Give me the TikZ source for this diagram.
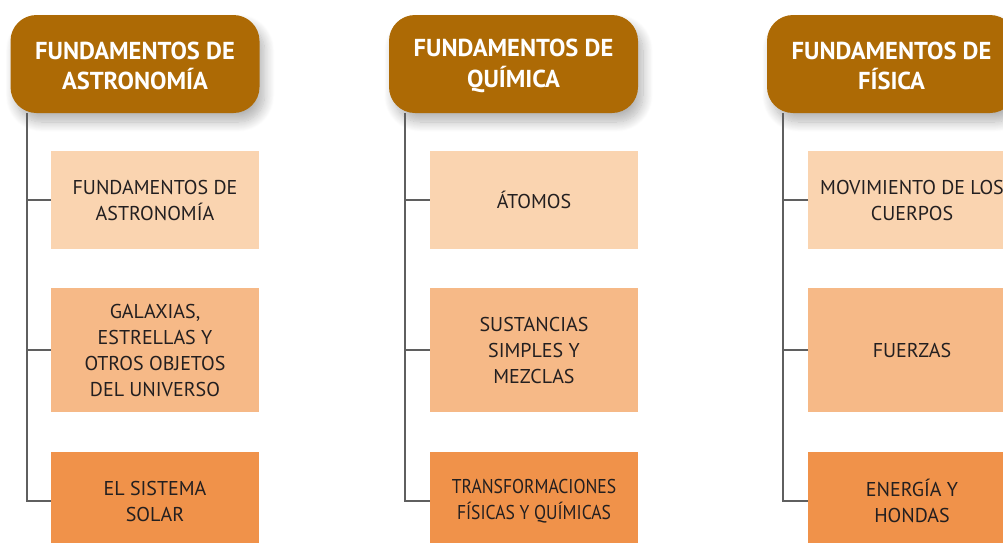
\documentclass[tikz,border=0pt]{standalone}
\usepackage{fontspec}
\setmainfont{PT Sans}
\newfontfamily\narrowsans[FakeStretch=0.88]{PT Sans}
\usetikzlibrary{shadows.blur}
\definecolor{hdr}{RGB}{173,106,5}
\definecolor{cA}{RGB}{250,212,176}
\definecolor{cB}{RGB}{246,185,135}
\definecolor{cC}{RGB}{240,146,74}
\definecolor{txt}{RGB}{35,31,32}
\definecolor{ln}{RGB}{95,95,95}
\begin{document}
\begin{tikzpicture}[x=1pt,y=-1pt,
 hdrbox/.style={fill=hdr, rounded corners=26pt, minimum width=249pt, minimum height=98pt, text=white,
   font=\fontsize{24.5}{30.5}\selectfont\bfseries, align=center, inner sep=0pt,
   blur shadow={shadow xshift=5pt, shadow yshift=-9pt, shadow opacity=30, shadow blur steps=14, shadow blur radius=10pt}},
 hdrtext/.style={text=white, font=\fontsize{24.5}{30.5}\selectfont\bfseries, align=center, inner sep=0pt},
 sub/.style={minimum width=208pt, inner sep=0pt, align=center, text=txt, font=\fontsize{20}{26}\selectfont},
 conn/.style={draw=ln, line width=1.4pt}]
\useasboundingbox (0,0) rectangle (1003,542);
\clip (0,0) rectangle (1003,542);
% column 1
\node[hdrbox] (h1) at (135,64) {};
\node[hdrtext] (h1t) at (135,66) {FUNDAMENTOS DE\\ASTRONOMÍA};
\node[sub, fill=cA, minimum height=98pt] (a1) at (155,200) {FUNDAMENTOS DE\\ASTRONOMÍA};
\node[sub, fill=cB, minimum height=124pt] (a2) at (155,350) {GALAXIAS,\\ESTRELLAS Y\\OTROS OBJETOS\\DEL UNIVERSO};
\node[sub, fill=cC, minimum height=98pt] (a3) at (155,501) {EL SISTEMA\\SOLAR};
\coordinate (t1) at (27,113);
\draw[conn] (t1) |- (a3.west);
\draw[conn] (a1.west) -- (a1.west -| t1);
\draw[conn] (a2.west) -- (a2.west -| t1);
% column 2
\node[hdrbox] (h2) at (513.5,64) {};
\node[hdrtext] (h2t) at (513.5,66) {FUNDAMENTOS DE\\QUÍMICA};
\node[sub, fill=cA, minimum height=98pt] (b1) at (534,200) {ÁTOMOS};
\node[sub, fill=cB, minimum height=124pt] (b2) at (534,350) {SUSTANCIAS\\SIMPLES Y\\MEZCLAS};
\node[sub, fill=cC, minimum height=98pt, font=\fontsize{20}{26}\narrowsans] (b3) at (534,501) {TRANSFORMACIONES\\FÍSICAS Y QUÍMICAS};
\coordinate (t2) at (405,113);
\draw[conn] (t2) |- (b3.west);
\draw[conn] (b1.west) -- (b1.west -| t2);
\draw[conn] (b2.west) -- (b2.west -| t2);
% column 3
\node[hdrbox] (h3) at (891.5,64) {};
\node[hdrtext] (h3t) at (891.5,66) {FUNDAMENTOS DE\\FÍSICA};
\node[sub, fill=cA, minimum height=98pt] (c1) at (912,200) {MOVIMIENTO DE LOS\\CUERPOS};
\node[sub, fill=cB, minimum height=124pt] (c2) at (912,350) {FUERZAS};
\node[sub, fill=cC, minimum height=98pt] (c3) at (912,501) {ENERGÍA Y\\HONDAS};
\coordinate (t3) at (783,113);
\draw[conn] (t3) |- (c3.west);
\draw[conn] (c1.west) -- (c1.west -| t3);
\draw[conn] (c2.west) -- (c2.west -| t3);
\end{tikzpicture}
\end{document}
